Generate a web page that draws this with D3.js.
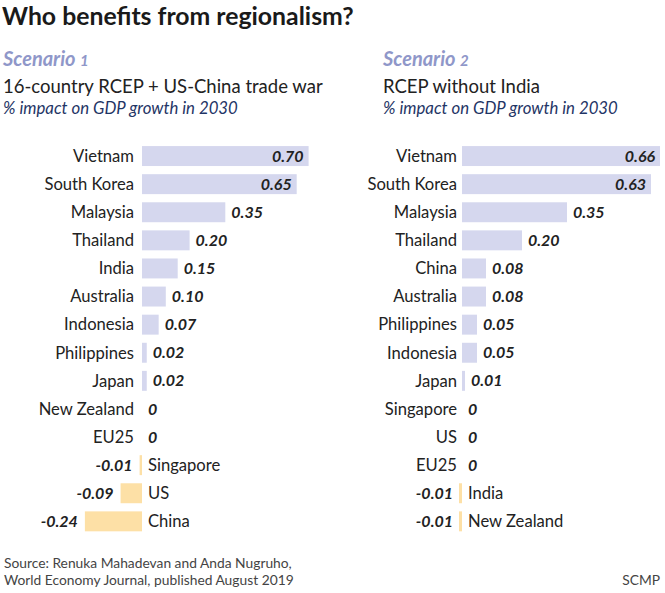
<!DOCTYPE html>
<html>
<head>
<meta charset="utf-8">
<script src="https://cdn.jsdelivr.net/npm/d3@7"></script>
<style>
  html, body { margin: 0; padding: 0; background: #fff; }
  svg { display: block; font-family: Lato, "Noto Sans", sans-serif; }
</style>
</head>
<body>
<svg id="chart" width="665" height="593"></svg>
<script>
const s1Categories = ["Vietnam","South Korea","Malaysia","Thailand","India","Australia","Indonesia","Philippines","Japan","New Zealand","EU25","Singapore","US","China"];
const s1Values = [0.70,0.65,0.35,0.20,0.15,0.10,0.07,0.02,0.02,0,0,-0.01,-0.09,-0.24];
const s2Categories = ["Vietnam","South Korea","Malaysia","Thailand","China","Australia","Philippines","Indonesia","Japan","Singapore","US","EU25","India","New Zealand"];
const s2Values = [0.66,0.63,0.35,0.20,0.08,0.08,0.05,0.05,0.01,0,0,0,-0.01,-0.01];

const svg = d3.select("#chart");
const posColor = "#d5d7ee";
const negColor = "#fde0a6";
const textColor = "#222222";

svg.append("text").attr("x", 2).attr("y", 25)
  .attr("font-size", 24.8).attr("font-weight", 700).attr("fill", "#1a1a1a")
  .text("Who benefits from regionalism?");

function header(x, num, sub) {
  const t = svg.append("text").attr("x", x).attr("y", 66)
    .attr("font-size", 20).attr("font-weight", 700).attr("font-style", "italic").attr("fill", "#8f97c9");
  t.append("tspan").text("Scenario ");
  t.append("tspan").attr("font-size", 15).text(num);
  svg.append("text").attr("x", x).attr("y", 93).attr("font-size", 18.5).attr("fill", textColor).text(sub);
  svg.append("text").attr("x", x).attr("y", 113.5).attr("font-size", 16.8).attr("font-style", "italic")
    .attr("fill", "#1f3566").text("% impact on GDP growth in 2030");
}
header(3, "1", "16-country RCEP + US-China trade war");
header(383, "2", "RCEP without India");

function panel(cats, vals, domain, range, nameGapNeg, nameGapPos) {
  const x = d3.scaleLinear().domain(domain).range(range);
  const y = d3.scaleBand().domain(cats).range([142, 535.4]).paddingInner(0.29).paddingOuter(0.145);
  const fmt = v => v === 0 ? "0" : v.toFixed(2);
  const g = svg.append("g");
  const data = cats.map((c, i) => ({c, v: vals[i]}));
  const x0 = x(0);
  g.selectAll("rect").data(data.filter(d => d.v !== 0)).join("rect")
    .attr("x", d => Math.min(x(d.v), x0))
    .attr("width", d => Math.abs(x(d.v) - x0))
    .attr("y", d => y(d.c))
    .attr("height", y.bandwidth())
    .attr("fill", d => d.v > 0 ? posColor : negColor);
  g.selectAll("text.name").data(data).join("text").attr("class", "name")
    .attr("x", d => d.v < 0 ? x0 + 6 : x0 - nameGapPos)
    .attr("y", d => y(d.c) + y.bandwidth() / 2)
    .attr("dy", "0.35em")
    .attr("text-anchor", d => d.v < 0 ? "start" : "end")
    .attr("font-size", 16.6).attr("fill", textColor)
    .text(d => d.c);
  g.selectAll("text.val").data(data).join("text").attr("class", "val")
    .attr("x", d => {
      const w = x(d.v) - x0;
      if (w > 150) return x(d.v) - 5;
      if (d.v < 0) return x(d.v) - nameGapNeg;
      return x(d.v) + 6;
    })
    .attr("y", d => y(d.c) + y.bandwidth() / 2)
    .attr("dy", "0.35em")
    .attr("text-anchor", d => (x(d.v) - x0 > 150 || d.v < 0) ? "end" : "start")
    .attr("font-size", 16).attr("font-weight", 700).attr("font-style", "italic").attr("fill", textColor)
    .text(d => fmt(d.v));
}
panel(s1Categories, s1Values, [-0.25, 0.75], [142 - 0.25 * 238, 142 + 0.75 * 238], 7, 8);
panel(s2Categories, s2Values, [-0.02, 0.68], [462 - 0.02 * 300, 462 + 0.68 * 300], 6, 5);

svg.append("text").attr("x", 4).attr("y", 568).attr("font-size", 13.8).attr("fill", "#444")
  .text("Source: Renuka Mahadevan and Anda Nugruho,");
svg.append("text").attr("x", 4).attr("y", 585).attr("font-size", 13.8).attr("fill", "#444")
  .text("World Economy Journal, published August 2019");
svg.append("text").attr("x", 660).attr("y", 585).attr("text-anchor", "end").attr("font-size", 13.8).attr("fill", "#444")
  .text("SCMP");
</script>
</body>
</html>
